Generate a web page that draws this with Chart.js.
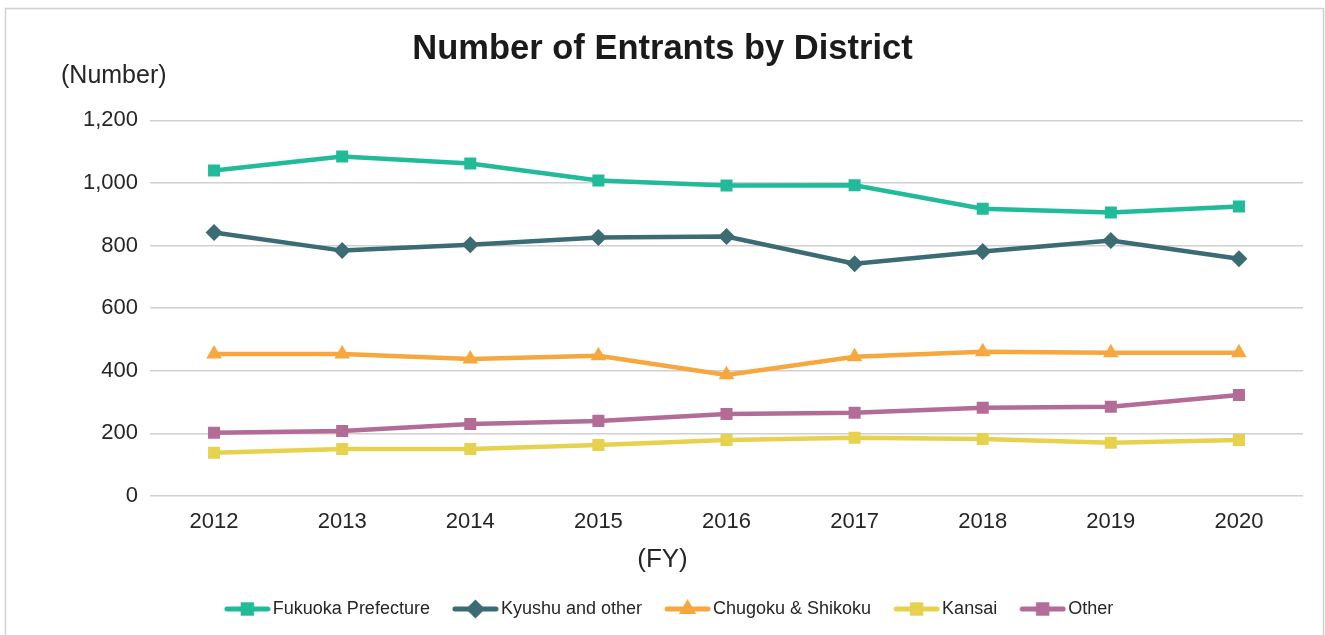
<!DOCTYPE html>
<html><head><meta charset="utf-8">
<script src="https://cdn.jsdelivr.net/npm/chart.js@4/dist/chart.umd.min.js"></script>
<style>html,body{margin:0;padding:0;background:#fff}#wrap{width:1325px;height:635px;position:relative}</style>
</head><body><div id="wrap"><canvas id="c"></canvas></div>
<script>
const categories = ['2012','2013','2014','2015','2016','2017','2018','2019','2020'];
const fukuoka = [1040,1085,1062,1008,992,993,918,906,925];
const kyushu  = [842,784,803,826,829,742,781,816,758];
const chugoku = [454,454,438,448,387,445,461,458,458];
const kansai  = [138,150,150,163,179,186,182,170,179];
const other   = [202,208,230,240,262,266,282,285,323];
const seriesNames = ['Fukuoka Prefecture','Kyushu and other','Chugoku & Shikoku','Kansai','Other'];
const yMin = 0, yMax = 1200, yStep = 200;

const FONT = "'Liberation Sans', Arial, sans-serif";
const TXT = '#262626';
const colors = ['#22bb99','#3b6b73','#f6a73e','#e6d24f','#b36c98'];
const styles = ['rect','rectRot','triangle','rect','rect'];
const radii = [8.5,8.5,9,8.5,8.5];

function makeIcon(color, style, r){
  const c = document.createElement('canvas');
  c.width = 66; c.height = 20;
  const g = c.getContext('2d');
  const x0 = 19, x1 = 66, cy = 10, cx = (x0+x1)/2;
  g.strokeStyle = color; g.lineWidth = 5; g.lineCap = 'round';
  g.beginPath(); g.moveTo(x0+3, cy); g.lineTo(x1-3, cy); g.stroke();
  g.fillStyle = color;
  g.beginPath();
  if (style === 'rect') { const s = r*Math.SQRT1_2; g.rect(cx-s, cy-s, 2*s, 2*s); }
  else if (style === 'rectRot') { g.moveTo(cx-r,cy); g.lineTo(cx,cy-r); g.lineTo(cx+r,cy); g.lineTo(cx,cy+r); g.closePath(); }
  else { g.moveTo(cx, cy-r); g.lineTo(cx + r*0.866, cy + r*0.5); g.lineTo(cx - r*0.866, cy + r*0.5); g.closePath(); }
  g.fill();
  return c;
}
const icons = colors.map((c,i)=>makeIcon(c, styles[i], radii[i]+1));

const allData = [fukuoka, kyushu, chugoku, kansai, other];
const datasets = allData.map((d,i)=>({
  label: seriesNames[i], data: d, yAxisID: 'y',
  borderColor: colors[i], backgroundColor: colors[i],
  borderWidth: 4.5, pointStyle: styles[i], pointRadius: radii[i],
  pointHoverRadius: radii[i], pointBorderWidth: 0, tension: 0
}));

const framePlugin = {
  id: 'frame',
  beforeDraw(chart){
    const ctx = chart.ctx;
    ctx.save();
    ctx.fillStyle = '#fff'; ctx.fillRect(0,0,chart.width,chart.height);
    ctx.strokeStyle = '#d0d0d0'; ctx.lineWidth = 1.5;
    ctx.strokeRect(5.5, 8.5, 1318, 700);
    ctx.restore();
  },
  afterDraw(chart){
    const ctx = chart.ctx, a = chart.chartArea;
    ctx.save();
    ctx.font = "25px " + FONT; ctx.fillStyle = TXT;
    ctx.textAlign = 'left'; ctx.textBaseline = 'alphabetic';
    ctx.fillText('(Number)', a.left - 89, a.top - 37);
    ctx.font = "26px " + FONT;
    ctx.textAlign = 'center'; ctx.textBaseline = 'middle';
    ctx.fillText('(FY)', chart.width / 2, a.bottom + 64);
    ctx.restore();
  }
};

new Chart(document.getElementById('c'), {
  type: 'line',
  data: { labels: categories, datasets },
  plugins: [framePlugin],
  options: {
    responsive: true, maintainAspectRatio: false, animation: false, devicePixelRatio: 1,
    layout: { padding: { left: 0, right: 0, top: 0, bottom: 7 } },
    plugins: {
      title: { display: true, text: 'Number of Entrants by District', color: '#1a1a1a',
        font: { family: FONT, size: 34.5, weight: 'bold' }, padding: { top: 29, bottom: 50 } },
      legend: { position: 'bottom',
        labels: { usePointStyle: true, pointStyleWidth: 52, padding: 10, color: TXT,
          font: { family: FONT, size: 18 },
          generateLabels: (chart) => chart.data.datasets.map((ds,i)=>({
            text: ds.label, pointStyle: icons[i], fillStyle: colors[i], strokeStyle: colors[i],
            lineWidth: 0, hidden: false, datasetIndex: i, fontColor: TXT })) } },
      tooltip: { enabled: false }
    },
    scales: {
      x: {
        offset: true,
        grid: { display: false, drawTicks: false }, border: { display: false },
        ticks: { color: TXT, font: { family: FONT, size: 22 }, padding: 13, maxRotation: 0 },
        afterFit(s){ s.height = 94; }
      },
      y: {
        min: yMin, max: yMax,
        grid: { color: '#d0d0d0', lineWidth: 1.5, drawTicks: false }, border: { display: false },
        ticks: { stepSize: yStep, color: TXT, font: { family: FONT, size: 22 }, padding: 12 },
        afterFit(s){ s.width = 150; }
      },
      y2: {
        position: 'right',
        grid: { display: false, drawTicks: false }, border: { display: false },
        ticks: { display: false },
        afterFit(s){ s.width = 22; }
      }
    }
  }
});
</script></body></html>
